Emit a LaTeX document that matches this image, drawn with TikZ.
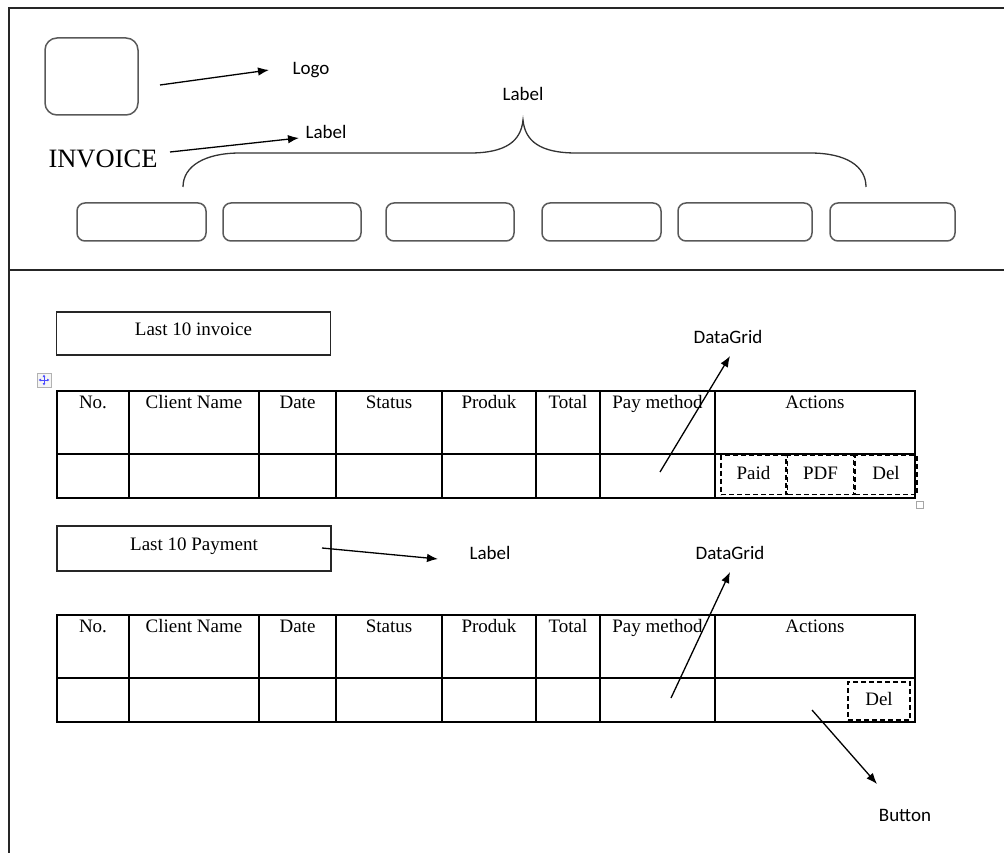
\documentclass[tikz,border=0pt]{standalone}
\usepackage{fontspec}
\setmainfont{Liberation Serif}
\newfontfamily\calfont{Carlito}
\usetikzlibrary{arrows.meta,positioning}

\tikzset{
  frame/.style={draw=black!85, line width=1.2pt},
  grid/.style={draw=black, line width=1.3pt},
  rbox/.style={draw=black!65, line width=1.5pt, rounded corners=8pt, inner sep=0pt},
  titlebox/.style={draw=black!85, line width=1.2pt, minimum width=274pt, minimum height=43pt, inner sep=0pt},
  dbtn/.style={draw=black, line width=1.5pt, dash pattern=on 5pt off 3pt, inner sep=0pt,
    minimum height=39pt, text height=13pt, text depth=4pt, font=\fontsize{19}{22}\selectfont},
  lbl/.style={font=\calfont\fontsize{19}{22}\selectfont, anchor=base},
  hdr/.style={font=\fontsize{19}{22}\selectfont, anchor=base},
  brace/.style={draw=black!80, line width=1.3pt},
}

\begin{document}
\begin{tikzpicture}[x=1pt, y=-1pt, >={Latex[length=11pt,width=8.5pt]}]
  \useasboundingbox (0,0) rectangle (1004,853);

  % page frame
  \draw[frame] (9,853) -- (9,8) -- (1004,8);
  \draw[frame] (9,270) -- (1004,270);

  % header
  \node[rbox, rounded corners=12pt, minimum width=93pt, minimum height=77pt] (logo) at (91.5,76.5) {};
  \node[lbl] (logotxt) at (311,75) {Logo};
  \node[anchor=base, font=\fontsize{26.5}{30}\selectfont] (invoice) at (103,168) {INVOICE};
  \node[lbl] (invlbl) at (326,139) {Label};
  \node[lbl] (menulbl) at (523,101) {Label};

  \coordinate (logoA) at (160,85);
  \coordinate (logoB) at (269,70);
  \coordinate (invA)  at (170,152);
  \coordinate (invB)  at (299,138);
  \path[->, line width=1.3pt] (logoA) edge (logoB);
  \path[->, line width=1.3pt] (invA) edge (invB);

  \foreach \n/\xa/\xb in {1/77/206, 2/223/361, 3/386/514, 4/542/661, 5/678/812, 6/830/955}
    \node[rbox, minimum width=\xb-\xa, minimum height=38pt] (menu\n) at ({(\xa+\xb)/2},222) {};

  \draw[brace] (183,187) .. controls (183,166) and (205,153) .. (240,153) -- (470,153)
    .. controls (506,153) and (521,141) .. (523,120)
    .. controls (525,141) and (540,153) .. (576,153) -- (810,153)
    .. controls (846,153) and (866,166) .. (866,187);

  % titles
  \node[titlebox] (invtitle) at (193.5,333.5) {};
  \node[hdr] (invtitletxt) at ([yshift=-24pt]invtitle.north) {Last 10 invoice};
  \node[titlebox, minimum height=45pt] (paytitle) at (194,548.5) {};
  \node[hdr] (paytitletxt) at ([yshift=-25pt]paytitle.north) {Last 10 Payment};
  \node[lbl] (paylbl) at (490,559) {Label};
  \coordinate (payA) at (322,548);
  \coordinate (payB) at (438,559);
  \path[->, line width=1.3pt] (payA) edge (payB);

  % move handle
  \node[draw=gray!60, fill=gray!8, line width=0.9pt, minimum size=14pt, inner sep=0pt] (move) at (44,380) {};
  \draw[blue!70, line width=0.8pt, {Latex[length=2.5pt,width=3pt]}-{Latex[length=2.5pt,width=3pt]}]
    ([xshift=-5.5pt]move.center) -- ([xshift=5.5pt]move.center);
  \draw[blue!70, line width=0.8pt, {Latex[length=2.5pt,width=3pt]}-{Latex[length=2.5pt,width=3pt]}]
    ([yshift=-5.5pt]move.center) -- ([yshift=5.5pt]move.center);

  % tables
  \foreach \t/\m/\b/\p in {391/454/498/a, 615/678/722/b} {
    \draw[grid] (57,\t) rectangle (915,\b);
    \draw[grid] (57,\m) -- (915,\m);
    \foreach \c in {129,259,336,442,536,600,715}
      \draw[grid] (\c,\t) -- (\c,\b);
    \foreach \n/\c/\txt in {1/93/No., 2/194/Client Name, 3/297.5/Date, 4/389/Status,
        5/489/Produk, 6/568/Total, 7/657.5/Pay method, 8/815/Actions}
      \node[hdr] (\p h\n) at (\c,\t+17) {\txt};
  }

  % action buttons
  \node[dbtn, minimum width=65pt] (paid) at (753.5,475) {Paid};
  \node[dbtn, minimum width=66pt, right=0pt of paid] (pdf) {PDF};
  \node[dbtn, minimum width=62pt, right=0pt of pdf] (del) {Del};
  \node[draw=gray!70, line width=0.9pt, minimum size=7pt, inner sep=0pt] (resize) at (920,505) {};
  \node[dbtn, minimum width=62pt, minimum height=38pt] (paydel) at (879,701) {Del};

  % annotations
  \node[lbl] (grid1) at (728,343) {DataGrid};
  \node[lbl] (grid2) at (730,559) {DataGrid};
  \node[lbl] (btnlbl) at (905,821) {Button};
  \coordinate (g1A) at (660,472);
  \coordinate (g1B) at (730,356);
  \coordinate (g2A) at (671,698);
  \coordinate (g2B) at (730,572);
  \coordinate (bA)  at (812,710);
  \coordinate (bB)  at (877,784);
  \path[->, line width=1.3pt] (g1A) edge (g1B);
  \path[->, line width=1.3pt] (g2A) edge (g2B);
  \path[->, line width=1.3pt] (bA) edge (bB);
\end{tikzpicture}
\end{document}
